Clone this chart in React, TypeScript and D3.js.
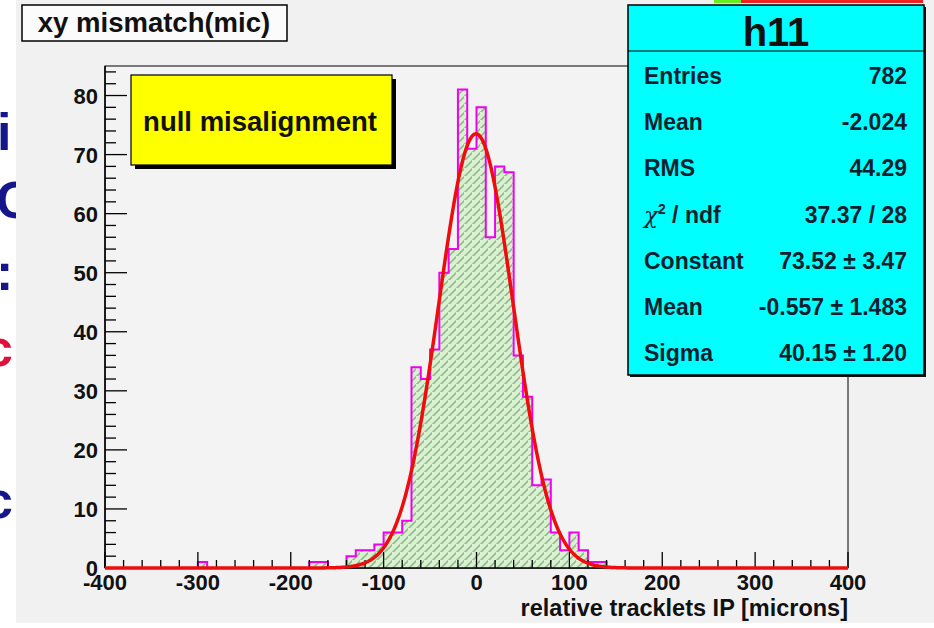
import React from "react";
import * as d3 from "d3";

// Histogram h11: lower bin edges (bin width 10 microns) and counts of the non-empty bins
const binLow = [-300, -180, -170, -140, -130, -120, -110, -100, -90, -80, -70, -60, -50, -40, -30, -20, -10, 0, 10, 20, 30, 40, 50, 60, 70, 80, 90, 100, 110, 120, 130];
const binCount = [1, 1, 1, 2, 3, 3, 4, 6, 6, 8, 34, 32, 37, 50, 54, 81, 71, 78, 56, 68, 67, 36, 29, 14, 15, 6, 3, 6, 3, 1, 1];
const binWidth = 10;

// Gaussian fit parameters (from the stats box)
const fitConstant = 73.52;
const fitMean = -0.557;
const fitSigma = 40.15;

const xTicksMajor = [-400, -300, -200, -100, 0, 100, 200, 300, 400];
const yTicksMajor = [0, 10, 20, 30, 40, 50, 60, 70, 80];

const statLabels = ["Entries", "Mean", "RMS", "CHI", "Constant", "Mean", "Sigma"];
const statValues = ["782", "-2.024", "44.29", "37.37 / 28", "73.52 \u00b1 3.47", "-0.557 \u00b1 1.483", "40.15 \u00b1 1.20"];

const FONT = "'Liberation Sans', Arial, Helvetica, sans-serif";

export default function App() {
  const W = 934, H = 628;
  const L = 105, R = 848, T = 66, B = 568;
  const x = d3.scaleLinear().domain([-400, 400]).range([L, R]);
  const y = d3.scaleLinear().domain([0, 85]).range([B, T]);

  const counts = new Map<number, number>();
  binLow.forEach((b, i) => counts.set(b, binCount[i]));
  const pts: [number, number][] = [[-400, 0]];
  for (let lo = -400; lo < 400; lo += binWidth) {
    const c = counts.get(lo) ?? 0;
    pts.push([lo, c]);
    pts.push([lo + binWidth, c]);
  }
  pts.push([400, 0]);
  const line = d3.line<[number, number]>().x(d => x(d[0])).y(d => y(d[1]));
  const histPath = line(pts) || "";

  const fitPts: [number, number][] = d3.range(-400, 400.5, 1).map(v => [v, fitConstant * Math.exp(-0.5 * ((v - fitMean) / fitSigma) ** 2)]);
  const fitPath = line(fitPts) || "";

  const xMinor = d3.range(-400, 401, 20);
  const yMinor = d3.range(0, 85.01, 2);

  const rowY0 = 84;
  const rowStep = 46.2;

  return (
    <svg width={W} height={H} style={{ display: "block", position: "absolute", left: 0, top: 0 }} fontFamily={FONT}>
      <defs>
        <pattern id="hatch" width="8" height="8" patternUnits="userSpaceOnUse">
          <rect width="8" height="8" fill="#d8f2d0" />
          <path d="M0,8 h2 v-2 h2 v-2 h2 v-2 h2 v-2" stroke="#7fa37f" strokeWidth="1" fill="none" />
        </pattern>
        <clipPath id="frameclip">
          <rect x={L} y={T - 20} width={R - L + 4} height={B - T + 24} />
        </clipPath>
      </defs>
      <rect x={0} y={0} width={W} height={H} fill="#ffffff" />
      <g fontWeight="bold" fontSize="52" fontFamily={FONT}>
        <text x={-3} y={150} fill="#16168c">i</text>
        <text x={-4} y={218} fill="#16168c">C</text>
        <text x={-4} y={290} fill="#16168c">:</text>
        <text x={-16} y={366} fill="#e0103c">c</text>
        <text x={-16} y={518} fill="#16168c">c</text>
      </g>
      <rect x={16} y={0} width={W - 16} height={623} fill="#f1f1f1" />
      <rect x={714} y={0} width={27} height={3} fill="#66ee22" />
      <rect x={741} y={0} width={182} height={3} fill="#ee2222" />
      <rect x={L} y={T} width={R - L} height={B - T} fill="#f3f3f3" stroke="#000" strokeWidth={1} />
      <path d={histPath} fill="url(#hatch)" stroke="none" />
      <path d={histPath} fill="none" stroke="#f000f0" strokeWidth={2} />
      <line x1={L} x2={R} y1={B} y2={B} stroke="#000" strokeWidth={1.5} />
      <line x1={L} x2={L} y1={T} y2={B} stroke="#000" strokeWidth={1.5} />
      {xMinor.map(v => (
        <line key={"xm" + v} x1={x(v)} x2={x(v)} y1={B} y2={B - (v % 100 === 0 ? 16 : 8)} stroke="#000" strokeWidth={1.3} />
      ))}
      {yMinor.map(v => (
        <line key={"ym" + v} x1={L} x2={L + (Math.abs(v % 10) < 1e-6 ? 22 : 11)} y1={y(v)} y2={y(v)} stroke="#000" strokeWidth={1.3} />
      ))}
      <g clipPath="url(#frameclip)">
        <path d={fitPath} fill="none" stroke="#ee0c0c" strokeWidth={3.5} strokeLinejoin="round" />
      </g>
      <g fontWeight="bold" fontSize="22" fill="#111">
        {xTicksMajor.map(v => (
          <text key={"xl" + v} x={x(v)} y={590} textAnchor="middle">{v}</text>
        ))}
        {yTicksMajor.map(v => (
          <text key={"yl" + v} x={98} y={y(v) + 8} textAnchor="end">{v}</text>
        ))}
      </g>
      <text x={R} y={616} textAnchor="end" fontWeight="bold" fontSize="23.5" fill="#111">relative tracklets IP [microns]</text>
      <rect x={135} y={79} width={261} height={90} fill="#000" />
      <rect x={131} y={75} width={261} height={90} fill="#ffff00" stroke="#000" strokeWidth={1.2} />
      <text x={260} y={131} textAnchor="middle" fontWeight="bold" fontSize="27.5" fill="#111">null misalignment</text>
      <rect x={630} y={7} width={296} height={370} fill="#111" />
      <rect x={628} y={5} width={296} height={370} fill="#00ffff" stroke="#000" strokeWidth={1.5} />
      <line x1={628} x2={924} y1={51} y2={51} stroke="#000" strokeWidth={1.2} />
      <text x={776} y={46} textAnchor="middle" fontWeight="bold" fontSize="40" fill="#111">h11</text>
      <g fontWeight="bold" fontSize="23" fill="#0f1f2f">
        {statLabels.map((s, i) => (
          <text key={"sl" + i} x={644} y={rowY0 + i * rowStep}>
            {s === "CHI" ? (
              <>
                <tspan fontFamily="'DejaVu Serif', serif" fontStyle="italic" fontWeight="normal">{"\u03c7"}</tspan>
                <tspan dy={-9} fontSize="14">2</tspan>
                <tspan dy={9}>{" / ndf"}</tspan>
              </>
            ) : s}
          </text>
        ))}
        {statValues.map((s, i) => (
          <text key={"sv" + i} x={907} y={rowY0 + i * rowStep} textAnchor="end">{s}</text>
        ))}
      </g>
      <rect x={22} y={5} width={265} height={36} fill="#fbfbfb" stroke="#000" strokeWidth={1.5} />
      <text x={154} y={32} textAnchor="middle" fontWeight="bold" fontSize="27.5" fill="#111">xy mismatch(mic)</text>
    </svg>
  );
}
